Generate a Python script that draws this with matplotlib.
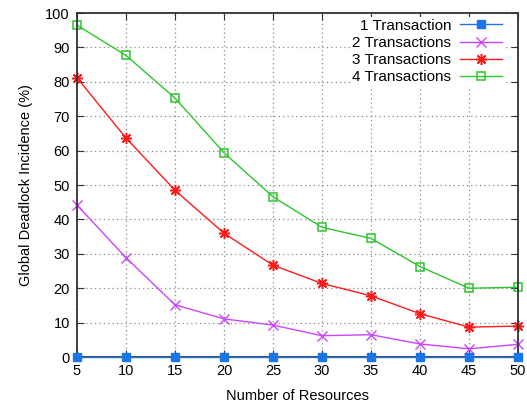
import matplotlib.pyplot as plt
import numpy as np

plt.rcParams['font.family'] = ['Liberation Sans', 'DejaVu Sans']

# Data
resources = [5, 10, 15, 20, 25, 30, 35, 40, 45, 50]
one_tx = [0, 0, 0, 0, 0, 0, 0, 0, 0, 0]
two_tx = [44.2, 28.9, 15.2, 11.1, 9.3, 6.2, 6.5, 3.8, 2.4, 3.7]
three_tx = [81.2, 63.7, 48.5, 36.0, 26.7, 21.4, 17.8, 12.6, 8.7, 9.0]
four_tx = [96.5, 87.7, 75.3, 59.4, 46.6, 37.7, 34.5, 26.3, 20.0, 20.3]

labels = ["1 Transaction", "2 Transactions", "3 Transactions", "4 Transactions"]

fig = plt.figure(figsize=(5.27, 4.09), dpi=100)
ax = fig.add_axes([0.146, 0.127, 0.837, 0.841])

ax.plot(resources, one_tx, color="#1a75e8", marker="s", markersize=6,
        linewidth=1, label=labels[0], clip_on=False, zorder=5)
ax.plot(resources, two_tx, color="#cc44ff", marker="x", markersize=7,
        markeredgewidth=1, linewidth=1, label=labels[1], clip_on=False)
ax.plot(resources, three_tx, color="#ff1a1a", marker=(8, 2, 0), markersize=8,
        markeredgewidth=1.1, linewidth=1, label=labels[2], clip_on=False)
ax.plot(resources, four_tx, color="#2ec42e", marker="s", markersize=6,
        markerfacecolor="none", markeredgewidth=1.1, linewidth=1,
        label=labels[3], clip_on=False)

ax.set_xlim(5, 50)
ax.set_ylim(0, 100)
ax.set_xticks(np.arange(5, 51, 5))
ax.set_yticks(np.arange(0, 101, 10))
ax.grid(True, color="#888888", linestyle=(0, (1, 2.5)), linewidth=0.9)
ax.set_axisbelow(True)

ax.tick_params(direction="in", top=True, right=True, length=5,
               labelsize=10.5, color="#333333", pad=5)
for s in ax.spines.values():
    s.set_color("#333333")
    s.set_linewidth(1.3)

ax.set_xlabel("Number of Resources", fontsize=10.5, labelpad=8)
ax.set_ylabel("Global Deadlock Incidence (%)", fontsize=10.5, labelpad=9)

leg = ax.legend(loc="upper right", bbox_to_anchor=(0.968, 0.99),
                markerfirst=False, fontsize=11,
                frameon=True, fancybox=False, framealpha=1,
                edgecolor="none", facecolor="white", handlelength=2.7,
                labelspacing=0.2, borderpad=0.15, borderaxespad=0,
                handletextpad=0.6)

fig.savefig("out.png", dpi=100)
